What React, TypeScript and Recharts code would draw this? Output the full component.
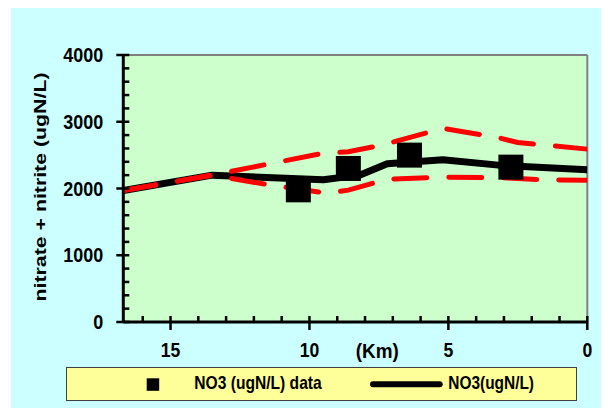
import React from "react";
import {
  ComposedChart,
  Line,
  Scatter,
  XAxis,
  YAxis,
  CartesianGrid,
  ReferenceLine
} from "recharts";

// model run (black) and its envelope (red dashed), km upstream of the outlet
const modelKm = [16.7, 13.5, 9.5, 8.2, 7.2, 5.2, 3.2, 0];
const modelNo3 = [1970, 2200, 2130, 2200, 2370, 2430, 2350, 2280];
const upperKm = [16.7, 13.5, 9.5, 8.6, 7.4, 5.2, 3.3, 2.5, 0];
const upperNo3 = [1970, 2200, 2530, 2550, 2650, 2900, 2770, 2690, 2590];
const lowerKm = [16.7, 13.5, 11.4, 9.4, 8.6, 7.2, 5.2, 3.3, 1.5, 0];
const lowerNo3 = [1970, 2200, 2050, 1930, 1975, 2140, 2170, 2165, 2130, 2125];

// measured samples
const dataKm = [10.4, 8.6, 6.4, 2.75];
const dataNo3 = [1980, 2300, 2500, 2320];

const kmTicks = [0, 1, 2, 3, 4, 5, 6, 7, 8, 9, 10, 11, 12, 13, 14, 15, 16];
const no3Ticks = [0, 200, 400, 600, 800, 1000, 1200, 1400, 1600, 1800, 2000, 2200, 2400, 2600, 2800, 3000, 3200, 3400, 3600, 3800, 4000];

const toRows = (xs: number[], ys: number[]) => xs.map((km, i) => ({ km, no3: ys[i] }));

const model = toRows(modelKm, modelNo3);
const upper = toRows(upperKm, upperNo3);
const lower = toRows(lowerKm, lowerNo3);
const samples = toRows(dataKm, dataNo3);

const FONT = '"Liberation Sans", Arial, sans-serif';

const XTick = ({ x, y, payload }: any) => {
  const v = payload.value;
  const major = v % 5 === 0;
  return (
    <g>
      {major ? (
        <line x1={x} x2={x} y1={y - 6} y2={y + 8} stroke="#000" strokeWidth={2.5} />
      ) : (
        <line x1={x} x2={x} y1={y} y2={y - 6} stroke="#000" strokeWidth={2.5} />
      )}
      {major && (
        <text
          x={x}
          y={y + 35}
          textAnchor="middle"
          fontFamily={FONT}
          fontWeight="bold"
          fontSize={20}
          textLength={9.8 * String(v).length}
          lengthAdjust="spacingAndGlyphs"
          fill="#000"
        >
          {v}
        </text>
      )}
    </g>
  );
};

const YTick = ({ x, y, payload }: any) => {
  const v = payload.value;
  const major = v % 1000 === 0;
  return (
    <g>
      {major ? (
        <line x1={x - 7} x2={x + 6} y1={y} y2={y} stroke="#000" strokeWidth={2.5} />
      ) : (
        <line x1={x} x2={x + 6} y1={y} y2={y} stroke="#000" strokeWidth={2.5} />
      )}
      {major && (
        <text
          x={x - 20}
          y={y + 7}
          textAnchor="end"
          fontFamily={FONT}
          fontWeight="bold"
          fontSize={20}
          textLength={10 * String(v).length}
          lengthAdjust="spacingAndGlyphs"
          fill="#000"
        >
          {v}
        </text>
      )}
    </g>
  );
};

const KmLabel = ({ viewBox }: any) => (
  <text
    x={viewBox.x + 254}
    y={viewBox.y + 35.5}
    textAnchor="middle"
    fontFamily={FONT}
    fontWeight="bold"
    fontSize={20}
    textLength={43}
    lengthAdjust="spacingAndGlyphs"
    fill="#000"
  >
    (Km)
  </text>
);

const YTitle = ({ viewBox }: any) => {
  const cx = viewBox.x + 23.4;
  const cy = viewBox.y + viewBox.height / 2 - 1.5;
  return (
    <text
      x={cx}
      y={cy}
      transform={`rotate(-90, ${cx}, ${cy})`}
      textAnchor="middle"
      fontFamily={FONT}
      fontWeight="bold"
      fontSize={17}
      textLength={229}
      lengthAdjust="spacingAndGlyphs"
      fill="#000"
    >
      nitrate + nitrite (ugN/L)
    </text>
  );
};

const Square = (p: any) => (
  <rect x={p.cx - 12.5} y={p.cy - 12.5} width={25} height={25} fill="#000" />
);

export default function App() {
  return (
    <div
      style={{
        position: "relative",
        marginLeft: 3,
        width: 598,
        height: 400,
        background: "#CCFFFF"
      }}
    >
      <ComposedChart
        width={598}
        height={400}
        margin={{ top: 47, right: 21.7, left: 12, bottom: 56 }}
      >
        <CartesianGrid fill="#CCFFCC" stroke="none" horizontal={false} vertical={false} />
        <XAxis
          dataKey="km"
          type="number"
          domain={[0, 16.7]}
          reversed
          allowDataOverflow
          ticks={kmTicks}
          interval={0}
          tickSize={0}
          tickMargin={0}
          tickLine={false}
          tick={XTick}
          axisLine={{ stroke: "#000", strokeWidth: 3 }}
          height={30}
          label={KmLabel}
        />
        <YAxis
          type="number"
          domain={[0, 4000]}
          ticks={no3Ticks}
          interval={0}
          tickSize={0}
          tickMargin={0}
          tickLine={false}
          tick={YTick}
          axisLine={{ stroke: "#000", strokeWidth: 3 }}
          width={100.3}
          label={YTitle}
        />
        <ReferenceLine y={4000} stroke="#808080" strokeWidth={2} />
        <ReferenceLine x={0} stroke="#808080" strokeWidth={2} />
        <Line
          data={model}
          dataKey="no3"
          stroke="#000"
          strokeWidth={7}
          strokeLinejoin="round"
          dot={false}
          activeDot={false}
          isAnimationActive={false}
        />
        <Line
          data={upper}
          dataKey="no3"
          stroke="#FF0000"
          strokeWidth={5}
          strokeDasharray="33 22"
          strokeLinecap="round"
          dot={false}
          activeDot={false}
          isAnimationActive={false}
        />
        <Line
          data={lower}
          dataKey="no3"
          stroke="#FF0000"
          strokeWidth={5}
          strokeDasharray="33 22"
          strokeLinecap="round"
          dot={false}
          activeDot={false}
          isAnimationActive={false}
        />
        <Scatter data={samples} dataKey="no3" shape={Square} isAnimationActive={false} />
      </ComposedChart>

      <svg
        width={511}
        height={34}
        style={{ position: "absolute", left: 55, top: 359 }}
      >
        <rect x={0.5} y={0.5} width={510} height={33} fill="#FFFF99" stroke="#404040" />
        <rect x={80.7} y={11.3} width={12.5} height={12.5} fill="#000" />
        <text
          x={128.3}
          y={22.3}
          fontFamily={FONT}
          fontWeight="bold"
          fontSize={18.5}
          textLength={127.4}
          lengthAdjust="spacingAndGlyphs"
          fill="#000"
        >
          NO3 (ugN/L) data
        </text>
        <line x1={307} x2={373.7} y1={17.3} y2={17.3} stroke="#000" strokeWidth={6} strokeLinecap="round" />
        <text
          x={382.3}
          y={22.3}
          fontFamily={FONT}
          fontWeight="bold"
          fontSize={18.5}
          textLength={85.7}
          lengthAdjust="spacingAndGlyphs"
          fill="#000"
        >
          NO3(ugN/L)
        </text>
      </svg>
    </div>
  );
}
